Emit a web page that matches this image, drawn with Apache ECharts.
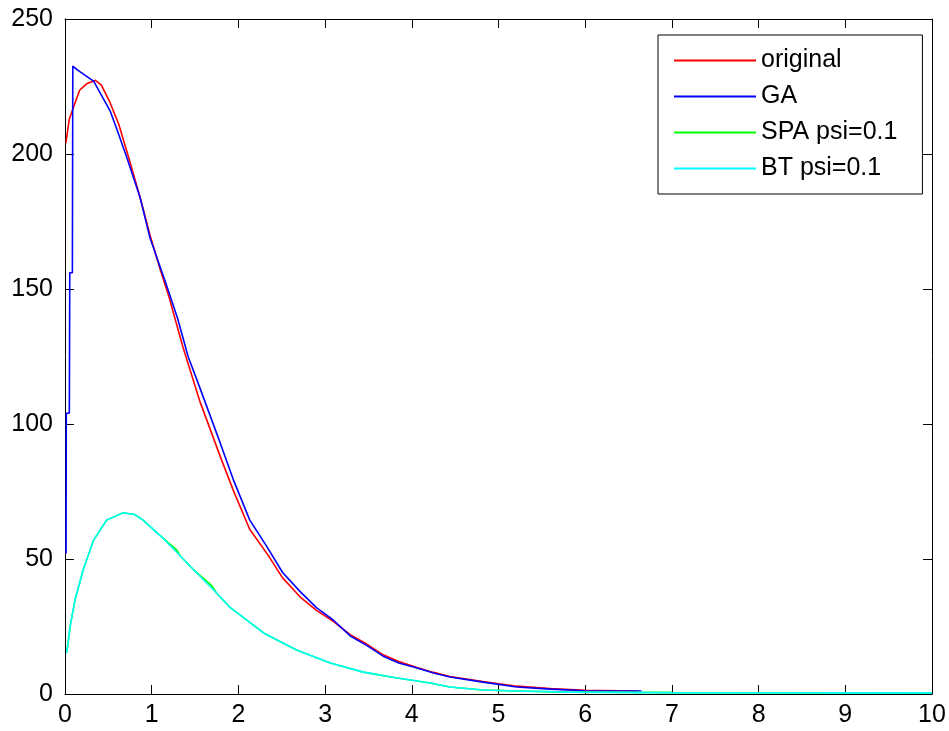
<!DOCTYPE html>
<html>
<head>
<meta charset="utf-8">
<script src="https://cdn.jsdelivr.net/npm/echarts@6/dist/echarts.min.js"></script>
<style>
html,body{margin:0;padding:0;background:#fff;}
#chart{width:949px;height:731px;}
</style>
</head>
<body>
<div id="chart"></div>
<script>
// ---- data ----
const seriesNames = ['original', 'GA', 'SPA psi=0.1', 'BT psi=0.1'];
const xTicks = [0,1,2,3,4,5,6,7,8,9,10];
const yTicks = [0,50,100,150,200,250];

const xOriginal = [0.01,0.05,0.10,0.17,0.25,0.35,0.42,0.52,0.62,0.75,0.87,0.98,1.10,1.20,1.36,1.56,1.79,1.94,2.13,2.33,2.51,2.71,2.90,3.09,3.29,3.48,3.67,3.85,4.06,4.25,4.44,4.82,5.21,5.60,6.00,6.60];
const yOriginal = [204,213,217.5,223.7,226,227.3,225.5,219,211,197,183.5,170,157,147,128.5,108,88,75.5,61,52,43,36,31,27,22,18.5,14.5,12,9.8,8,6.5,4.6,2.9,2,1.4,1.1];

const xGA = [0.012,0.015,0.05,0.055,0.085,0.09,0.15,0.33,0.52,0.60,0.71,0.865,0.98,1.17,1.30,1.42,1.56,1.79,1.94,2.13,2.33,2.51,2.71,2.90,3.09,3.29,3.48,3.67,3.85,4.06,4.25,4.44,4.82,5.21,5.60,5.98,6.65];
const yGA = [52,104,104,156,156,232.5,231,227,216,209,199,184,169,151.5,139,125,113,93,79.5,64.5,54.5,45,38,32,27.5,21.5,18,14,11.5,9.6,7.8,6.3,4.4,2.6,1.8,1.2,1.1];

const xSPA = [0.02,0.058,0.115,0.21,0.33,0.48,0.67,0.80,0.90,1.13,1.29,1.33,1.48,1.69,1.75,1.90,2.29,2.67,3.06,3.44,3.83,4.21,4.44,4.82,5.21,5.80,7.00,10.0];
const ySPA = [15.2,24.8,34.8,46,57,64.4,67.1,66.5,64.4,57.7,53.3,51.1,46.1,40.2,37.3,32.2,22.6,16.3,11.5,8.1,5.9,4.1,2.6,1.5,1.1,0.7,0.5,0.4];

const xBT = [0.02,0.058,0.115,0.21,0.33,0.48,0.67,0.80,0.90,1.13,1.33,1.48,1.75,1.90,2.29,2.67,3.06,3.44,3.83,4.21,4.44,4.82,5.21,5.80,7.00,10.0];
const yBT = [15.2,24.8,34.8,46,57,64.4,67.1,66.5,64.4,57.7,51.1,46.1,37.3,32.2,22.6,16.3,11.5,8.1,5.9,4.1,2.6,1.5,1.1,0.7,0.5,0.4];

const colors = ['#ff0000','#0000ff','#00ff00','#00ffff'];

function zip(xs, ys){ return xs.map((x,i)=>[x, ys[i]]); }

const FONT = "'Liberation Sans', Arial, sans-serif";
const chart = echarts.init(document.getElementById('chart'), null, {renderer:'canvas'});

const tickStyle = {show:true, inside:true, length:9, lineStyle:{color:'#000', width:1}};
const lineStyleAxis = {show:true, onZero:false, lineStyle:{color:'#000', width:1}};

chart.setOption({
  animation:false,
  backgroundColor:'#fff',
  grid:{left:65, right:17, top:19, bottom:37, containLabel:false},
  legend:{
    data: seriesNames,
    orient:'vertical',
    left:658, top:35,
    padding:[13,25,13,16],
    icon:'rect',
    itemWidth:82, itemHeight:2, itemGap:11,
    borderColor:'#000', borderWidth:1,
    backgroundColor:'#fff',
    textStyle:{fontSize:25, color:'#000', fontFamily:FONT, lineHeight:25},
    selectedMode:false
  },
  xAxis:[
    {type:'value', min:xTicks[0], max:xTicks[xTicks.length-1], interval:1, position:'bottom',
     axisLine:lineStyleAxis, axisTick:tickStyle, splitLine:{show:false},
     axisLabel:{fontSize:25, color:'#000', fontFamily:FONT, margin:9}},
    {type:'value', min:xTicks[0], max:xTicks[xTicks.length-1], interval:1, position:'top',
     axisLine:lineStyleAxis, axisTick:tickStyle, splitLine:{show:false}, axisLabel:{show:false}}
  ],
  yAxis:[
    {type:'value', min:yTicks[0], max:yTicks[yTicks.length-1], interval:50, position:'left',
     axisLine:lineStyleAxis, axisTick:tickStyle, splitLine:{show:false},
     axisLabel:{fontSize:25, color:'#000', fontFamily:FONT, margin:12}},
    {type:'value', min:yTicks[0], max:yTicks[yTicks.length-1], interval:50, position:'right',
     axisLine:lineStyleAxis, axisTick:tickStyle, splitLine:{show:false}, axisLabel:{show:false}}
  ],
  series:[
    {name:seriesNames[0], type:'line', data:zip(xOriginal,yOriginal), symbol:'none', color:colors[0], lineStyle:{width:1.6, color:colors[0]}},
    {name:seriesNames[1], type:'line', data:zip(xGA,yGA), symbol:'none', color:colors[1], lineStyle:{width:1.6, color:colors[1]}},
    {name:seriesNames[2], type:'line', data:zip(xSPA,ySPA), symbol:'none', color:colors[2], lineStyle:{width:1.6, color:colors[2]}},
    {name:seriesNames[3], type:'line', data:zip(xBT,yBT), symbol:'none', color:colors[3], lineStyle:{width:1.6, color:colors[3]}}
  ]
});
</script>
</body>
</html>
